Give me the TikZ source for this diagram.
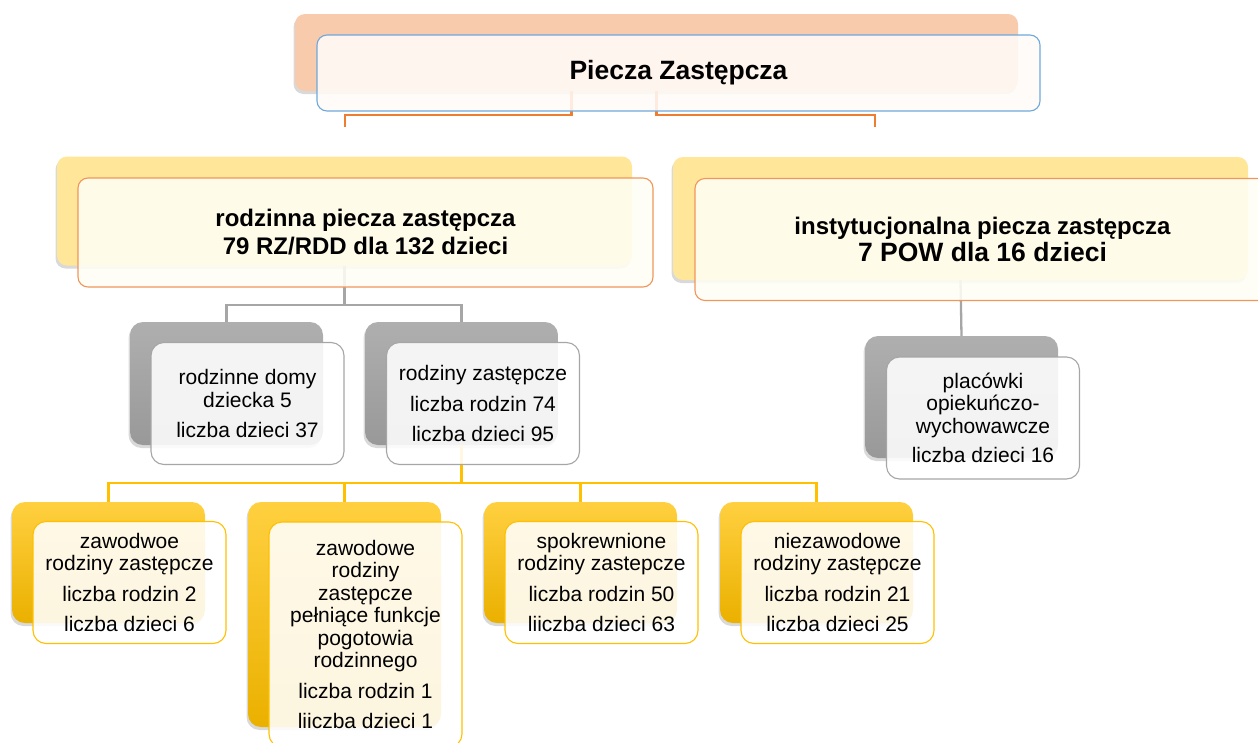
\documentclass[tikz,border=0pt]{standalone}
\usepackage{fontspec}
\setmainfont{Liberation Sans}
\usetikzlibrary{shadows}

\definecolor{topback}{HTML}{F8CBAD}
\definecolor{topline}{HTML}{ED7D31}
\definecolor{topborder}{HTML}{6FA8DC}
\definecolor{midback}{HTML}{FFE699}
\definecolor{midborder}{HTML}{F0965A}
\definecolor{grayline}{HTML}{A6A6A6}
\definecolor{yelline}{HTML}{FFC000}

\begin{document}
\begin{tikzpicture}[x=1pt,y=-1pt,
    back/.style={rounded corners=10pt,inner sep=0pt,
        drop shadow={shadow xshift=-1.5pt,shadow yshift=-3pt,opacity=.3}},
    front/.style={draw,rounded corners=10pt,inner sep=0pt,align=center,
        fill=white,fill opacity=.88,text opacity=1,line width=1.1pt},
    small/.style={rounded corners=13pt,minimum width=193pt},
    bigtext/.style={font=\fontsize{24}{28}\selectfont\bfseries},
    smalltext/.style={font=\fontsize{21}{22.5}\selectfont},
    yelshade/.style={top color=yelline!75!white,middle color=yelline,bottom color=yelline!92!black},
    grayshade/.style={top color=grayline!90!white,bottom color=grayline!92!black},
    conn/.style={line width=2.3pt}]

    \useasboundingbox (0,0) rectangle (1258,742);
    \clip (0,0) rectangle (1258,742);

    % back boxes
    \node[back,fill=topback,minimum width=723pt,minimum height=77pt] (pz-b) at (656.5,52.5) {};
    \node[back,fill=midback,minimum width=575pt,minimum height=109pt] (rpz-b) at (344.5,211) {};
    \node[back,fill=midback,minimum width=575pt,minimum height=123pt] (ipz-b) at (960.5,218.5) {};
    \node[back,small,grayshade,minimum height=123pt] (rdd-b) at (226.5,383.5) {};
    \node[back,small,grayshade,minimum height=123pt] (rz-b) at (461.5,383.5) {};
    \node[back,small,grayshade,minimum height=122pt] (pow-b) at (961.5,397) {};
    \node[back,small,yelshade,minimum height=121pt] (zrz-b) at (108.5,562.5) {};
    \node[back,small,yelshade,minimum height=225pt] (pog-b) at (344.5,614.5) {};
    \node[back,small,yelshade,minimum height=121pt] (srz-b) at (580.5,562.5) {};
    \node[back,small,yelshade,minimum height=121pt] (nrz-b) at (816.5,562.5) {};

    % connectors
    \coordinate (t-l) at (345,127);
    \coordinate (t-r) at (875,127);
    \draw[conn,topline] ([xshift=-85pt]pz-b.south) -- ++(0,24) -| (t-l);
    \draw[conn,topline] (pz-b.south) -- ++(0,24) -| (t-r);
    \draw[conn,grayline] (rpz-b.south) -- ++(0,39) -| (rdd-b.north);
    \draw[conn,grayline] (rpz-b.south) -- ++(0,39) -| (rz-b.north);
    \draw[conn,grayline] (ipz-b.south) -- (pow-b.north);
    \draw[conn,yelline] (rz-b.south) -- ++(0,38) -| (zrz-b.north);
    \draw[conn,yelline] (rz-b.south) -- ++(0,38) -| (pog-b.north);
    \draw[conn,yelline] (rz-b.south) -- ++(0,38) -| (srz-b.north);
    \draw[conn,yelline] (rz-b.south) -- ++(0,38) -| (nrz-b.north);

    % front boxes
    \node[front,draw=topborder,fill=orange!3!white,minimum width=723pt,minimum height=76pt,
        font=\fontsize{26.5}{30}\selectfont\bfseries] (pz) at (678.5,73) {Piecza Zastępcza};
    \node[front,bigtext,draw=midborder,fill=yellow!4!white,minimum width=575pt,minimum height=109pt] (rpz)
        at (365.5,232.5) {rodzinna piecza zastępcza\\79 RZ/RDD dla 132 dzieci};
    \node[front,bigtext,draw=midborder,fill=yellow!4!white,minimum width=575pt,minimum height=122pt] (ipz)
        at (982.5,239.5) {instytucjonalna piecza zastępcza\\[-1pt]{\fontsize{26.5}{28}\selectfont 7 POW dla 16 dzieci}};
    \node[front,small,smalltext,draw=grayline,minimum height=122pt] (rdd)
        at (247.5,403.5) {rodzinne domy\\dziecka 5\\[8pt]liczba dzieci 37};
    \node[front,small,smalltext,draw=grayline,minimum height=122pt] (rz)
        at (483,403.5) {rodziny zastępcze\\[8pt]liczba rodzin 74\\[8pt]liczba dzieci 95};
    \node[front,small,smalltext,draw=grayline,minimum height=122pt] (pow)
        at (983,418) {placówki\\opiekuńczo-\\wychowawcze\\[7pt]liczba dzieci 16};
    \node[front,small,smalltext,draw=yelline,minimum height=122pt] (zrz)
        at (129.5,582.5) {zawodwoe\\rodziny zastępcze\\[8pt]liczba rodzin 2\\[8pt]liczba dzieci 6};
    \node[front,small,smalltext,draw=yelline,minimum height=225pt] (pog)
        at (365.5,634.5) {zawodowe\\rodziny\\zastępcze\\pełniące funkcje\\pogotowia\\rodzinnego\\[8pt]liczba rodzin 1\\[8pt]liiczba dzieci 1};
    \node[front,small,smalltext,draw=yelline,minimum height=122pt] (srz)
        at (601.5,582.5) {spokrewnione\\rodziny zastepcze\\[8pt]liczba rodzin 50\\[8pt]liiczba dzieci 63};
    \node[front,small,smalltext,draw=yelline,minimum height=122pt] (nrz)
        at (837.5,582.5) {niezawodowe\\rodziny zastępcze\\[8pt]liczba rodzin 21\\[8pt]liczba dzieci 25};

\end{tikzpicture}
\end{document}
